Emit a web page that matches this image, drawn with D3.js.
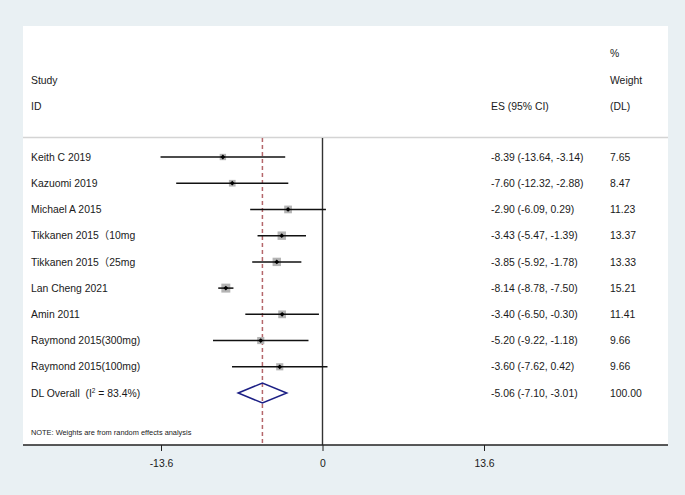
<!DOCTYPE html>
<html><head><meta charset="utf-8">
<script src="https://cdn.jsdelivr.net/npm/d3@7"></script>
<style>
html,body{margin:0;padding:0;background:#e9f0f3;}
svg{display:block;}
text{font-family:"Liberation Sans",Arial,"Noto Sans CJK SC",sans-serif;fill:#1a1a1a;}
</style></head>
<body>
<svg id="chart" width="685" height="495"></svg>
<script>
const studies = ["Keith C 2019","Kazuomi 2019","Michael A 2015","Tikkanen 2015（10mg","Tikkanen 2015（25mg","Lan Cheng 2021","Amin 2011","Raymond 2015(300mg)","Raymond 2015(100mg)"];
const es = [-8.39,-7.60,-2.90,-3.43,-3.85,-8.14,-3.40,-5.20,-3.60];
const lower = [-13.64,-12.32,-6.09,-5.47,-5.92,-8.78,-6.50,-9.22,-7.62];
const upper = [-3.14,-2.88,0.29,-1.39,-1.78,-7.50,-0.30,-1.18,0.42];
const weights = [7.65,8.47,11.23,13.37,13.33,15.21,11.41,9.66,9.66];
const overall = {es:-5.06, lower:-7.10, upper:-3.01, weight:100.00, i2:"83.4%"};
const tickValues = [-13.6, 0, 13.6];
const tickLabels = ["-13.6","0","13.6"];

const svg = d3.select("#chart");
const panel = {x0:23, x1:668, y0:26, y1:445};

svg.append("rect").attr("x",panel.x0).attr("y",panel.y0)
  .attr("width",panel.x1-panel.x0).attr("height",panel.y1-panel.y0).attr("fill","#ffffff");

const x = d3.scaleLinear().domain([-13.6,13.6]).range([161,484]);
const rows = d3.range(studies.length+1);
const y = d3.scalePoint().domain(rows).range([157,393]);

const fs = "10.4px";
const hdr = svg.append("g").style("font-size",fs);
hdr.append("text").attr("x",31).attr("y",80).attr("dy","0.35em").text("Study");
hdr.append("text").attr("x",31).attr("y",106).attr("dy","0.35em").text("ID");
hdr.append("text").attr("x",491).attr("y",106).attr("dy","0.35em").text("ES (95% CI)");
hdr.append("text").attr("x",610).attr("y",53).attr("dy","0.35em").text("%");
hdr.append("text").attr("x",610).attr("y",80).attr("dy","0.35em").text("Weight");
hdr.append("text").attr("x",610).attr("y",106).attr("dy","0.35em").text("(DL)");

svg.append("line").attr("x1",panel.x0).attr("x2",panel.x1).attr("y1",137.5).attr("y2",137.5)
  .attr("stroke","#d4d4d4").attr("stroke-width",1.5);

svg.append("line").attr("x1",x(0)).attr("x2",x(0)).attr("y1",138).attr("y2",panel.y1)
  .attr("stroke","#333").attr("stroke-width",1.4);

svg.append("line").attr("x1",x(overall.es)).attr("x2",x(overall.es)).attr("y1",138).attr("y2",panel.y1)
  .attr("stroke","#b5676b").attr("stroke-width",1.5).attr("stroke-dasharray","4,3");

const g = svg.append("g");
studies.forEach((s,i)=>{
  const yy = y(i);
  g.append("text").attr("x",31).attr("y",yy).attr("dy","0.35em").style("font-size",fs).text(s);
  const side = 2.3*Math.sqrt(weights[i]);
  g.append("rect").attr("x",x(es[i])-side/2).attr("y",yy-side/2).attr("width",side).attr("height",side)
    .attr("fill","#b4b4b4");
  g.append("line").attr("x1",x(lower[i])).attr("x2",x(upper[i])).attr("y1",yy).attr("y2",yy)
    .attr("stroke","#111").attr("stroke-width",1.5);
  const r = 2.4;
  g.append("path").attr("d",`M${x(es[i])-r},${yy}L${x(es[i])},${yy-r}L${x(es[i])+r},${yy}L${x(es[i])},${yy+r}Z`)
    .attr("fill","#000");
  g.append("text").attr("x",491).attr("y",yy).attr("dy","0.35em").style("font-size",fs)
    .text(`${es[i].toFixed(2)} (${lower[i].toFixed(2)}, ${upper[i].toFixed(2)})`);
  g.append("text").attr("x",610).attr("y",yy).attr("dy","0.35em").style("font-size",fs)
    .text(weights[i].toFixed(2));
});

const yo = y(studies.length);
const ot = g.append("text").attr("x",31).attr("y",yo).attr("dy","0.35em").style("font-size",fs);
ot.append("tspan").text("DL Overall\u00a0\u00a0(I");
ot.append("tspan").attr("dy",-3.6).style("font-size","6.5px").text("2");
ot.append("tspan").attr("dy",3.6).text("\u00a0= " + overall.i2 + ")");
g.append("path").attr("d",`M${x(overall.lower)},${yo}L${x(overall.es)},${yo-10}L${x(overall.upper)},${yo}L${x(overall.es)},${yo+10}Z`)
  .attr("fill","none").attr("stroke","#1c1f85").attr("stroke-width",1.5);
g.append("text").attr("x",491).attr("y",yo).attr("dy","0.35em").style("font-size",fs)
  .text(`${overall.es.toFixed(2)} (${overall.lower.toFixed(2)}, ${overall.upper.toFixed(2)})`);
g.append("text").attr("x",610).attr("y",yo).attr("dy","0.35em").style("font-size",fs)
  .text(overall.weight.toFixed(2));

svg.append("text").attr("x",31).attr("y",432).attr("dy","0.35em").style("font-size","7.4px")
  .text("NOTE: Weights are from random effects analysis");

const axis = d3.axisBottom(x).tickValues(tickValues).tickFormat((d,i)=>tickLabels[i]).tickSize(6).tickPadding(9);
const ag = svg.append("g").attr("transform",`translate(0,${panel.y1})`).call(axis);
ag.select(".domain").remove();
ag.selectAll(".tick line").attr("stroke","#222");
ag.selectAll(".tick text").style("font-size",fs).attr("fill","#1a1a1a").style("font-family","'Liberation Sans',Arial,sans-serif");
svg.append("line").attr("x1",panel.x0).attr("x2",panel.x1).attr("y1",panel.y1).attr("y2",panel.y1)
  .attr("stroke","#222").attr("stroke-width",1.5);
</script>
</body></html>
